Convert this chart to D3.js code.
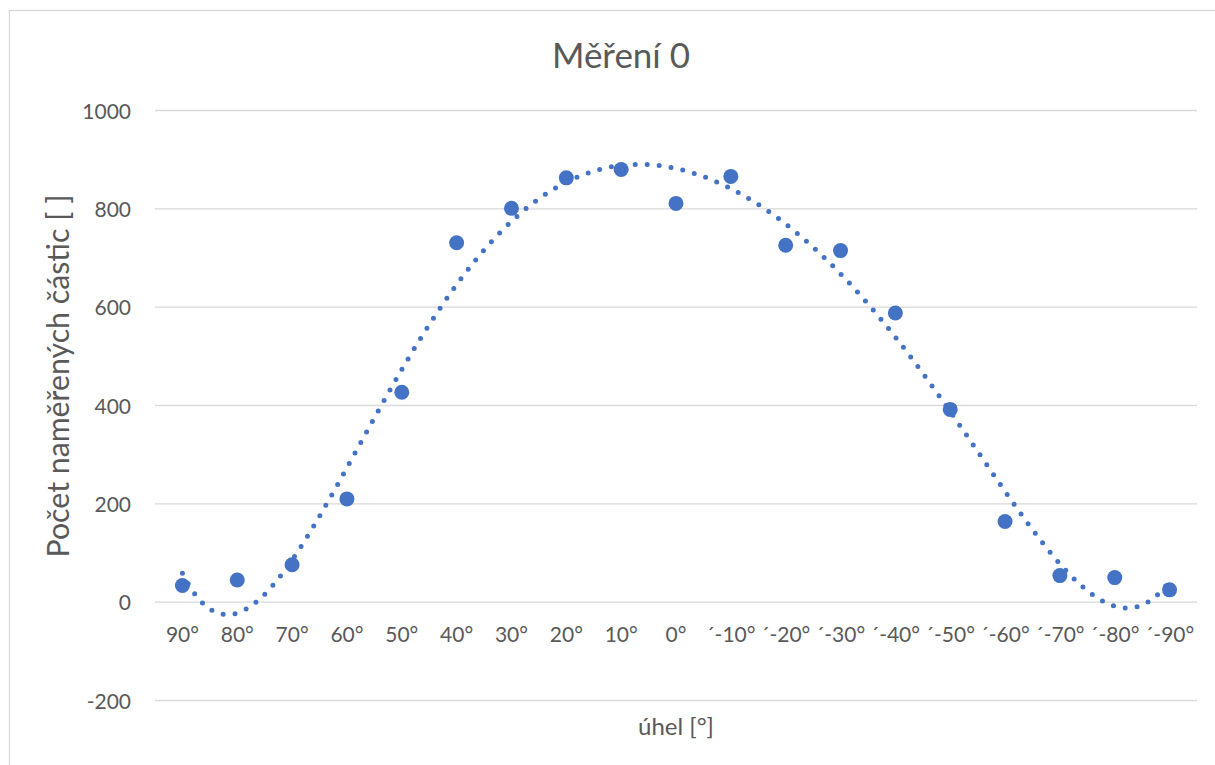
<!DOCTYPE html>
<html>
<head>
<meta charset="utf-8">
<script src="https://cdn.jsdelivr.net/npm/d3@7"></script>
<style>
  html, body { margin: 0; padding: 0; background: #ffffff; }
  svg { display: block; }
  text { font-family: Lato, "Open Sans", sans-serif; fill: #595959; }
</style>
</head>
<body>
<svg id="chart" width="1215" height="765"></svg>
<script>
// ---- data ----
const chartTitle = "Měření 0";
const xAxisTitle = "úhel [°]";
const yAxisTitle = "Počet naměřených částic [ ]";
const angleLabels = ["90°", "80°", "70°", "60°", "50°", "40°", "30°", "20°", "10°", "0°",
  "´-10°", "´-20°", "´-30°", "´-40°", "´-50°", "´-60°", "´-70°", "´-80°", "´-90°"];
const particleCounts = [33, 44, 75, 209, 426, 730, 800, 862, 879, 810,
  865, 725, 714, 587, 391, 163, 53, 49, 24];
const yTicks = [-200, 0, 200, 400, 600, 800, 1000];
const trendOrder = 6;

// ---- layout ----
const W = 1215, H = 765;
const plot = { left: 155, right: 1197, top: 110, bottom: 700 };
const blue = "#4472C4";
const grid = "#D9D9D9";

const svg = d3.select("#chart");

// chart border (chart area extends beyond the picture on right/bottom)
svg.append("rect")
  .attr("x", 9.5).attr("y", 10.5)
  .attr("width", W + 20).attr("height", H + 20)
  .attr("fill", "#fff").attr("stroke", grid).attr("stroke-width", 1.3);

const x = d3.scaleBand().domain(angleLabels).range([plot.left, plot.right]).padding(0);
const y = d3.scaleLinear().domain([-200, 1000]).range([plot.bottom, plot.top]);
const cx = d => x(d) + x.bandwidth() / 2;

// gridlines + y labels
const yAxis = d3.axisLeft(y).tickValues(yTicks).tickSize(0).tickPadding(0)
  .tickFormat(d => String(d));
const gy = svg.append("g").attr("transform", `translate(${plot.left},0)`).call(yAxis);
gy.select(".domain").remove();
gy.selectAll(".tick line")
  .attr("x2", plot.right - plot.left)
  .attr("stroke", grid).attr("stroke-width", 1.3);
gy.selectAll(".tick text")
  .attr("x", -24).attr("dy", null).attr("y", 8)
  .attr("text-anchor", "end")
  .style("font-family", "Lato, sans-serif")
  .style("font-size", "21px").attr("fill", "#595959");

// x axis labels placed below the value 0
const xAxis = d3.axisBottom(x).tickSize(0).tickPadding(0);
const gx = svg.append("g").attr("transform", `translate(0,${y(0)})`).call(xAxis);
gx.select(".domain").remove();
gx.selectAll(".tick text")
  .attr("y", 40).attr("dy", null)
  .style("font-family", "Lato, sans-serif")
  .style("font-size", "21px").attr("fill", "#595959");

// ---- polynomial trendline (least squares fit of the data) ----
function polyFit(xs, ys, order) {
  const n = order + 1;
  const A = Array.from({ length: n }, () => new Array(n + 1).fill(0));
  for (let k = 0; k < xs.length; k++) {
    const p = [];
    for (let i = 0; i <= 2 * order; i++) p.push(Math.pow(xs[k], i));
    for (let r = 0; r < n; r++) {
      for (let c = 0; c < n; c++) A[r][c] += p[r + c];
      A[r][n] += ys[k] * p[r];
    }
  }
  for (let c = 0; c < n; c++) {
    let piv = c;
    for (let r = c + 1; r < n; r++) if (Math.abs(A[r][c]) > Math.abs(A[piv][c])) piv = r;
    [A[c], A[piv]] = [A[piv], A[c]];
    for (let r = 0; r < n; r++) {
      if (r === c) continue;
      const f = A[r][c] / A[c][c];
      for (let k = c; k <= n; k++) A[r][k] -= f * A[c][k];
    }
  }
  return A.map((row, i) => row[n] / row[i]);
}
const nPts = particleCounts.length;
const mid = (nPts - 1) / 2;
const tx = particleCounts.map((_, i) => (i - mid) / mid);
const coef = polyFit(tx, particleCounts, trendOrder);
const polyVal = t => coef.reduce((s, c, i) => s + c * Math.pow(t, i), 0);

const idx = d3.scaleLinear().domain([0, nPts - 1])
  .range([cx(angleLabels[0]), cx(angleLabels[nPts - 1])]);
const samples = d3.range(0, nPts - 1 + 1e-9, (nPts - 1) / 400);

// markers
svg.append("g").selectAll("circle")
  .data(particleCounts)
  .join("circle")
  .attr("cx", (d, i) => cx(angleLabels[i]))
  .attr("cy", d => y(d))
  .attr("r", 7.5)
  .attr("fill", blue);

// dotted trendline
svg.append("path")
  .datum(samples)
  .attr("fill", "none")
  .attr("stroke", blue)
  .attr("stroke-width", 5)
  .attr("stroke-linecap", "round")
  .attr("stroke-dasharray", "0 12")
  .attr("d", d3.line().x(s => idx(s)).y(s => y(polyVal((s - mid) / mid))));

// ---- titles ----
function fitText(sel, target, base) {
  sel.style("font-size", base + "px");
  const w = sel.node().getComputedTextLength();
  sel.style("font-size", (base * target / w).toFixed(2) + "px");
}
const t = svg.append("text").attr("x", 621).attr("y", 68)
  .attr("text-anchor", "middle").text(chartTitle);
fitText(t, 138, 32);

const xt = svg.append("text").attr("x", (plot.left + plot.right) / 2).attr("y", 735)
  .attr("text-anchor", "middle").text(xAxisTitle);
fitText(xt, 76, 23);

const yt = svg.append("text")
  .attr("transform", "translate(69,376) rotate(-90)")
  .attr("text-anchor", "middle").text(yAxisTitle);
fitText(yt, 363, 28);
</script>
</body>
</html>
